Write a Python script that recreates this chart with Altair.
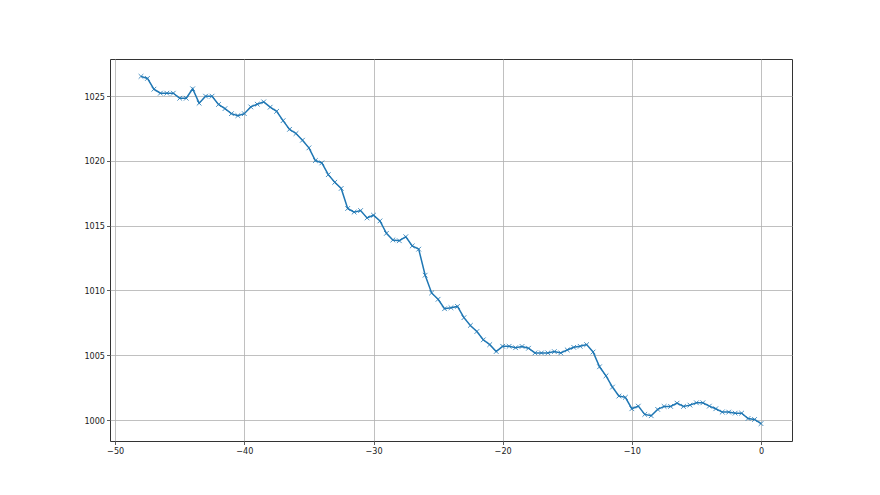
import altair as alt
import pandas as pd

x_start = -48.0
x_step = 0.5
pressure = [
    1026.53, 1026.37, 1025.54, 1025.23, 1025.23, 1025.23, 1024.84, 1024.84, 1025.57, 1024.46,
    1025.0, 1025.0, 1024.36, 1024.04, 1023.65, 1023.5, 1023.65, 1024.17, 1024.38, 1024.56,
    1024.15, 1023.83, 1023.11, 1022.44, 1022.12, 1021.6, 1021.01, 1020.03, 1019.85, 1018.94,
    1018.35, 1017.88, 1016.33, 1016.05, 1016.17, 1015.6, 1015.81, 1015.37, 1014.41, 1013.9,
    1013.84, 1014.15, 1013.44, 1013.19, 1011.18, 1009.81, 1009.32, 1008.59, 1008.67, 1008.77,
    1007.9, 1007.3, 1006.83, 1006.19, 1005.82, 1005.29, 1005.69, 1005.69, 1005.58, 1005.68,
    1005.54, 1005.18, 1005.18, 1005.18, 1005.28, 1005.18, 1005.41, 1005.61, 1005.69, 1005.82,
    1005.25, 1004.11, 1003.41, 1002.54, 1001.85, 1001.75, 1000.87, 1001.07, 1000.43, 1000.33,
    1000.82, 1001.05, 1001.05, 1001.3, 1001.05, 1001.15, 1001.33, 1001.33, 1001.07, 1000.87,
    1000.61, 1000.61, 1000.53, 1000.53, 1000.12, 1000.04, 999.72,
]
x_ticks = [-50, -40, -30, -20, -10, 0]
y_ticks = [1000, 1005, 1010, 1015, 1020, 1025]

xs = [x_start + i * x_step for i in range(len(pressure))]
df = pd.DataFrame({"x": xs, "y": pressure})

xr = max(xs) - min(xs)
yr = max(pressure) - min(pressure)
xdom = [min(xs) - 0.05 * xr, max(xs) + 0.05 * xr]
ydom = [min(pressure) - 0.05 * yr, max(pressure) + 0.05 * yr]

color = "#1f77b4"

x_enc = alt.X("x:Q", scale=alt.Scale(domain=xdom, nice=False, zero=False),
              axis=alt.Axis(values=x_ticks, title=None, format="d"))
y_enc = alt.Y("y:Q", scale=alt.Scale(domain=ydom, nice=False, zero=False),
              axis=alt.Axis(values=y_ticks, title=None, format="d"))

line = alt.Chart(df).mark_line(color=color, strokeWidth=1.5).encode(x=x_enc, y=y_enc)
pts = alt.Chart(df).mark_point(
    shape="M-1,-1L1,1M-1,1L1,-1", size=22, filled=False, color=color,
    strokeWidth=1, opacity=0.8
).encode(x=x_enc, y=y_enc)

chart = (line + pts).properties(
    width=682, height=382,
    autosize=alt.AutoSizeParams(type="none"),
    padding={"left": 102, "top": 51, "right": 80, "bottom": 46},
).configure_view(
    stroke="#333333", strokeWidth=1
).configure_axis(
    domain=False, grid=True, gridColor="#b0b0b0", gridWidth=0.8,
    tickColor="#333333", tickSize=3.5, tickWidth=0.8,
    labelFont="DejaVu Sans Condensed", labelFontSize=9, labelColor="#222222",
    labelPadding=2,
)

chart.save("out.html", embed_options={"renderer": "svg", "actions": False})
